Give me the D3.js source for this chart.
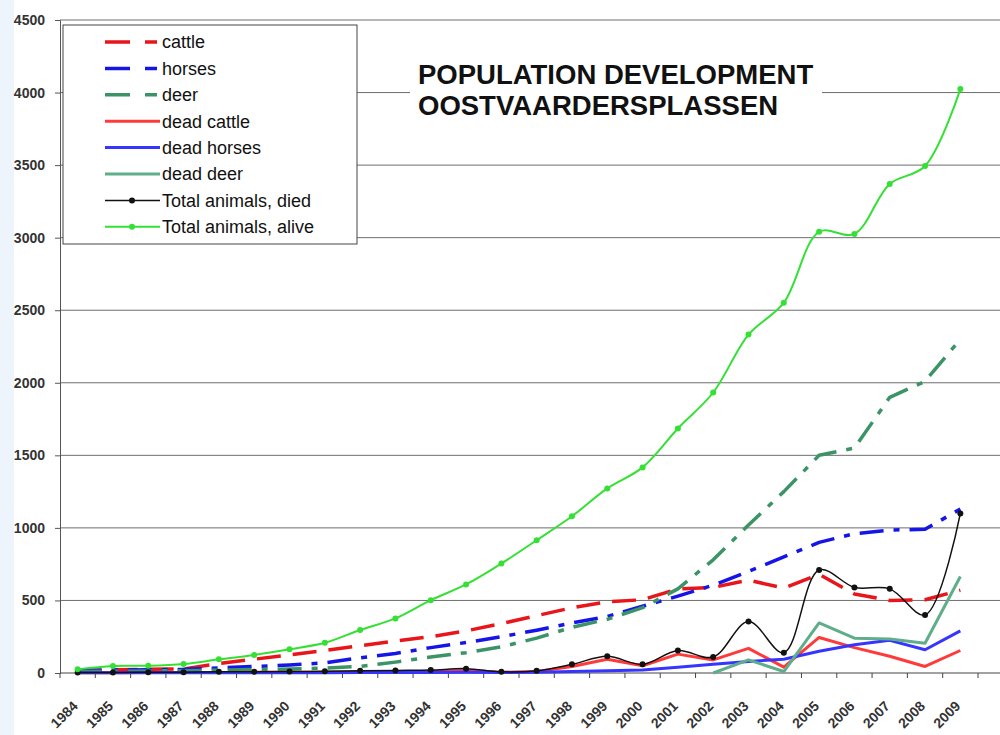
<!DOCTYPE html>
<html>
<head>
<meta charset="utf-8">
<script src="https://cdn.jsdelivr.net/npm/d3@7"></script>
<style>
  body { margin: 0; background: #fff; }
  text { font-family: "Liberation Sans", Arial, sans-serif; }
</style>
</head>
<body>
<div id="viz"></div>
<script>
const w = 1000;
const h = 735;

// data
const years = d3.range(1984, 2010).map(String);
const yTicks = [0, 500, 1000, 1500, 2000, 2500, 3000, 3500, 4000, 4500];

const cattle = [20, 22, 25, 28, 65, 95, 125, 155, 188, 220, 250, 290, 340, 395, 450, 490, 505, 580, 590, 640, 585, 680, 545, 500, 505, 570];
const horses = [15, 20, 22, 25, 35, 45, 55, 70, 105, 135, 175, 210, 250, 295, 345, 390, 460, 530, 605, 700, 800, 900, 960, 985, 990, 1130];
const deer = [10, 12, 14, 16, 20, 24, 28, 34, 45, 75, 110, 140, 180, 240, 315, 370, 450, 580, 780, 1020, 1250, 1500, 1550, 1900, 2010, 2300];
const deadCattle = [2, 2, 3, 3, 4, 5, 5, 6, 8, 9, 10, 18, 5, 10, 45, 95, 50, 130, 90, 170, 40, 245, 175, 115, 45, 155];
const deadHorses = [1, 1, 1, 1, 2, 2, 2, 2, 3, 3, 4, 5, 3, 5, 10, 15, 20, 40, 60, 80, 95, 150, 195, 225, 160, 290];
const deadDeer = [null, null, null, null, null, null, null, null, null, null, null, null, null, null, null, null, null, null, 0, 90, 10, 345, 240, 235, 205, 665];
const totalDied = [3, 4, 5, 6, 8, 8, 10, 12, 15, 18, 20, 30, 8, 15, 60, 115, 60, 155, 110, 355, 140, 710, 590, 580, 400, 1100];
const totalAlive = [25, 48, 50, 62, 94, 124, 163, 208, 296, 376, 502, 610, 754, 915, 1080, 1272, 1417, 1685, 1933, 2332, 2552, 3040, 3026, 3370, 3494, 4024];

const series = [
  { name: 'cattle', values: cattle, color: '#e8151b', width: 3.5, dash: '24,12' },
  { name: 'horses', values: horses, color: '#1515e8', width: 3.5, dash: '24,10,6,10' },
  { name: 'deer', values: deer, color: '#3a9466', width: 3.5, dash: '24,10,6,10' },
  { name: 'dead cattle', values: deadCattle, color: '#ff3a3a', width: 3 },
  { name: 'dead horses', values: deadHorses, color: '#3535ff', width: 3 },
  { name: 'dead deer', values: deadDeer, color: '#5fae8a', width: 3 },
  { name: 'Total animals, died', values: totalDied, color: '#111', width: 1.5, marker: true, smooth: true },
  { name: 'Total animals, alive', values: totalAlive, color: '#35e035', width: 2, marker: true, smooth: true }
];

const svg = d3.select('#viz').append('svg')
    .attr('width', w)
    .attr('height', h)

// faint blue strip on the left edge
svg.append('rect')
    .attr('width', 14).attr('height', h)
    .attr('fill', '#eef4fb')

const x = d3.scaleBand().domain(years).range([60, 978]);
const y = d3.scaleLinear().domain([0, 4500]).range([673, 20]);

// gridlines
svg.append('g')
    .selectAll('line')
    .data(yTicks.filter(d => d > 0))
    .join('line')
    .attr('x1', 60).attr('x2', w)
    .attr('y1', d => y(d)).attr('y2', d => y(d))
    .attr('stroke', '#6e6e6e')
    .attr('stroke-width', 1)

// y axis
let yAxis = svg.append('g')
    .attr('transform', 'translate(60,0)')
    .call(d3.axisLeft(y).tickValues(yTicks).tickFormat(d3.format('d')).tickSize(5).tickPadding(10))
yAxis.select('.domain').attr('stroke', '#555')
yAxis.selectAll('.tick line').attr('stroke', '#555')
yAxis.selectAll('text')
    .attr('font-size', 14).attr('font-weight', 'bold').attr('fill', '#333')
    .style('font-family', '"Liberation Sans", Arial, sans-serif')

// x axis
svg.append('line')
    .attr('x1', 60).attr('x2', w)
    .attr('y1', y(0)).attr('y2', y(0))
    .attr('stroke', '#444')
svg.append('g')
    .selectAll('line')
    .data(years.concat(['end']))
    .join('line')
    .attr('x1', (d, i) => x.range()[0] + i * x.bandwidth())
    .attr('x2', (d, i) => x.range()[0] + i * x.bandwidth())
    .attr('y1', y(0)).attr('y2', y(0) + 5)
    .attr('stroke', '#444')

svg.append('g')
    .selectAll('text')
    .data(years)
    .join('text')
    .attr('transform', d => `translate(${x(d) + x.bandwidth() / 2 + 1},${y(0) + 34}) rotate(-45)`)
    .attr('text-anchor', 'end')
    .attr('font-size', 14)
    .attr('font-weight', 'bold')
    .attr('fill', '#333')
    .text(d => d)

// lines
const cx = (d, i) => x(years[i]) + x.bandwidth() / 2;
const plot = svg.append('g');

series.forEach(s => {
  const line = d3.line()
      .defined(d => d !== null)
      .x(cx)
      .y(d => y(d))
      .curve(s.smooth ? d3.curveCatmullRom.alpha(0.5) : d3.curveLinear);
  plot.append('path')
      .attr('d', line(s.values))
      .attr('fill', 'none')
      .attr('stroke', s.color)
      .attr('stroke-width', s.width)
      .attr('stroke-dasharray', s.dash || null)
      .attr('stroke-linejoin', 'round')
  if (s.marker) {
    plot.append('g')
        .selectAll('circle')
        .data(s.values)
        .join('circle')
        .attr('cx', cx)
        .attr('cy', d => y(d))
        .attr('r', 3)
        .attr('fill', s.color)
  }
});

// title
svg.append('rect')
    .attr('x', 410).attr('y', 56).attr('width', 412).attr('height', 66)
    .attr('fill', '#fff')
let title = svg.append('text')
    .attr('font-size', 27.5)
    .attr('font-weight', 'bold')
    .attr('fill', '#111')
title.append('tspan').attr('x', 418).attr('y', 84).text('POPULATION DEVELOPMENT')
title.append('tspan').attr('x', 418).attr('y', 115).text('OOSTVAARDERSPLASSEN')

// legend
let legend = svg.append('g')
legend.append('rect')
    .attr('x', 63).attr('y', 25).attr('width', 294).attr('height', 219)
    .attr('fill', '#fff')
    .attr('stroke', '#444')
    .attr('stroke-width', 1)

let rowY = i => 42 + i * 26.4;
series.forEach((s, i) => {
  legend.append('line')
      .attr('x1', 105).attr('x2', 160)
      .attr('y1', rowY(i)).attr('y2', rowY(i))
      .attr('stroke', s.color)
      .attr('stroke-width', s.width)
      .attr('stroke-dasharray', s.dash ? '25,15,12,100' : null)
  if (s.marker) {
    legend.append('circle')
        .attr('cx', 132).attr('cy', rowY(i)).attr('r', 3)
        .attr('fill', s.color)
  }
  legend.append('text')
      .attr('x', 162).attr('y', rowY(i))
      .attr('dy', '0.35em')
      .attr('font-size', 18)
      .attr('fill', '#111')
      .text(s.name)
});
</script>
</body>
</html>
